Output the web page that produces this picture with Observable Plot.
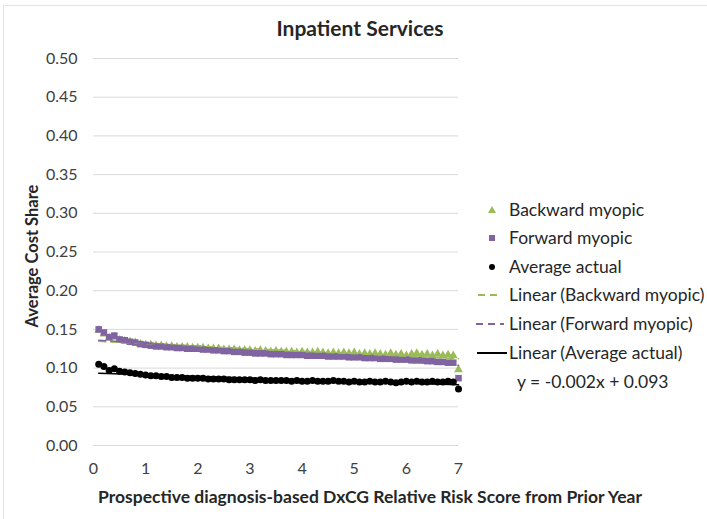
<!DOCTYPE html>
<html>
<head>
<meta charset="utf-8">
<script src="https://cdn.jsdelivr.net/npm/d3@7"></script>
<script src="https://cdn.jsdelivr.net/npm/@observablehq/plot@0.6"></script>
<style>
  html, body { margin: 0; padding: 0; background: #fff; }
  #wrap { position: relative; width: 707px; height: 519px; overflow: hidden; font-family: Lato, "Open Sans", sans-serif; color: #262626; }
  #frame { position: absolute; left: 3px; top: 5px; width: 720px; height: 600px; border-top: 1px solid #e3e3e3; border-left: 1px solid #e3e3e3; }
  #chart { position: absolute; left: 0; top: 0; }
  .abs { position: absolute; white-space: nowrap; }
  #title { left: 0; width: 720px; top: 16px; text-align: center; font-weight: bold; font-size: 21px; line-height: 24px; }
  #xlabel { left: 370px; top: 486px; transform: translateX(-50%); font-weight: bold; font-size: 17.5px; line-height: 22px; }
  #ylabel { left: 32px; top: 256px; transform: translate(-50%, -50%) rotate(-90deg); font-weight: bold; font-size: 16.5px; line-height: 20px; }
  .leg { font-size: 17.5px; line-height: 20px; color: #262626; }
</style>
</head>
<body>
<div id="wrap">
  <div id="frame"></div>
  <div id="chart"></div>
  <div id="title" class="abs">Inpatient Services</div>
  <div id="xlabel" class="abs">Prospective diagnosis-based DxCG Relative Risk Score from Prior Year</div>
  <div id="ylabel" class="abs">Average Cost Share</div>
  <div id="legend"></div>
</div>
<script>
// ---- Data ----
const riskScore = [0.1,0.2,0.3,0.4,0.5,0.6,0.7,0.8,0.9,1.0,
  1.1,1.2,1.3,1.4,1.5,1.6,1.7,1.8,1.9,2.0,
  2.1,2.2,2.3,2.4,2.5,2.6,2.7,2.8,2.9,3.0,
  3.1,3.2,3.3,3.4,3.5,3.6,3.7,3.8,3.9,4.0,
  4.1,4.2,4.3,4.4,4.5,4.6,4.7,4.8,4.9,5.0,
  5.1,5.2,5.3,5.4,5.5,5.6,5.7,5.8,5.9,6.0,
  6.1,6.2,6.3,6.4,6.5,6.6,6.7,6.8,6.9,7.0];

const backwardMyopic = [0.149,0.144,0.139,0.140,0.136,0.135,0.134,0.133,0.131,0.130,
  0.130,0.129,0.129,0.128,0.128,0.127,0.127,0.127,0.126,0.126,
  0.126,0.125,0.125,0.125,0.124,0.124,0.124,0.123,0.123,0.123,
  0.122,0.123,0.122,0.121,0.122,0.121,0.121,0.121,0.120,0.121,
  0.120,0.120,0.121,0.120,0.119,0.120,0.119,0.120,0.119,0.120,
  0.118,0.119,0.118,0.119,0.118,0.117,0.119,0.117,0.118,0.116,
  0.118,0.119,0.117,0.118,0.116,0.118,0.116,0.117,0.116,0.098];

const forwardMyopic = [0.150,0.146,0.140,0.142,0.137,0.136,0.134,0.133,0.131,0.130,
  0.129,0.128,0.128,0.127,0.127,0.126,0.126,0.125,0.125,0.125,
  0.124,0.124,0.123,0.123,0.122,0.122,0.121,0.121,0.120,0.120,
  0.119,0.119,0.119,0.118,0.118,0.118,0.117,0.117,0.117,0.117,
  0.116,0.116,0.116,0.116,0.115,0.115,0.115,0.115,0.114,0.114,
  0.114,0.113,0.113,0.113,0.112,0.112,0.112,0.111,0.111,0.111,
  0.110,0.110,0.110,0.109,0.109,0.108,0.108,0.107,0.107,0.087];

const averageActual = [0.105,0.102,0.097,0.099,0.096,0.095,0.094,0.093,0.092,0.091,
  0.090,0.090,0.089,0.089,0.088,0.088,0.088,0.087,0.087,0.087,
  0.087,0.086,0.086,0.086,0.086,0.085,0.085,0.085,0.085,0.085,
  0.084,0.085,0.084,0.084,0.084,0.084,0.084,0.083,0.084,0.083,
  0.083,0.084,0.083,0.083,0.083,0.084,0.083,0.083,0.082,0.083,
  0.082,0.082,0.083,0.082,0.082,0.083,0.082,0.081,0.082,0.083,
  0.082,0.083,0.082,0.082,0.083,0.082,0.082,0.083,0.082,0.073];

const xTicks = [0,1,2,3,4,5,6,7];
const yTicks = [0,0.05,0.10,0.15,0.20,0.25,0.30,0.35,0.40,0.45,0.50];

const seriesNames = ["Backward myopic","Forward myopic","Average actual"];
const trendNames = ["Linear (Backward myopic)","Linear (Forward myopic)","Linear (Average actual)"];
const equationText = "y = -0.002x + 0.093";

const GREEN = "#9BBB59", PURPLE = "#8064A2", BLACK = "#000000";

// ---- Build tables ----
const rowsB = riskScore.map((x, i) => ({x, y: backwardMyopic[i]}));
const rowsF = riskScore.map((x, i) => ({x, y: forwardMyopic[i]}));
const rowsA = riskScore.map((x, i) => ({x, y: averageActual[i]}));

const chart = Plot.plot({
  width: 707,
  height: 519,
  marginLeft: 93,
  marginRight: 249,
  marginTop: 58,
  marginBottom: 74,
  style: {fontFamily: "Lato, 'Open Sans', sans-serif", fontSize: "16px", color: "#404040", background: "transparent"},
  x: {domain: [0, 7]},
  y: {domain: [0, 0.5]},
  marks: [
    Plot.gridY(yTicks, {stroke: "#d9d9d9", strokeOpacity: 1, strokeWidth: 1}),
    Plot.axisY(yTicks, {tickSize: 0, tickPadding: 16, tickFormat: d3.format(".2f"), label: null, fill: "#404040"}),
    Plot.axisX(xTicks, {tickSize: 0, tickPadding: 17, tickFormat: d => String(d), label: null, fill: "#404040"}),
    Plot.dot(rowsB, {x: "x", y: "y", symbol: "triangle", r: 3.3, fill: GREEN, stroke: "none"}),
    Plot.dot(rowsF, {x: "x", y: "y", symbol: "square", r: 3.7, fill: PURPLE, stroke: "none"}),
    Plot.dot(rowsA, {x: "x", y: "y", symbol: "circle", r: 3.5, fill: BLACK, stroke: "none"}),
    Plot.linearRegressionY(rowsB, {x: "x", y: "y", ci: 0, stroke: GREEN, strokeWidth: 1.5, strokeDasharray: "7,5"}),
    Plot.linearRegressionY(rowsF, {x: "x", y: "y", ci: 0, stroke: PURPLE, strokeWidth: 1.5, strokeDasharray: "7,5"}),
    Plot.linearRegressionY(rowsA, {x: "x", y: "y", ci: 0, stroke: BLACK, strokeWidth: 1.5})
  ]
});
document.getElementById("chart").appendChild(chart);

// ---- Legend ----
const legend = document.getElementById("legend");
const legendRows = [
  {y: 210, kind: "triangle", color: GREEN, label: seriesNames[0]},
  {y: 238, kind: "square", color: PURPLE, label: seriesNames[1]},
  {y: 267, kind: "circle", color: BLACK, label: seriesNames[2]},
  {y: 295, kind: "dash", color: GREEN, label: trendNames[0], x0: 478, x1: 500},
  {y: 324, kind: "dash", color: PURPLE, label: trendNames[1], x0: 476, x1: 504},
  {y: 353, kind: "solid", color: BLACK, label: trendNames[2], x0: 477, x1: 507}
];
const NS = "http://www.w3.org/2000/svg";
const svg = document.createElementNS(NS, "svg");
svg.setAttribute("width", 707); svg.setAttribute("height", 519);
svg.style.position = "absolute"; svg.style.left = "0"; svg.style.top = "0";
for (const r of legendRows) {
  let el;
  if (r.kind === "triangle") {
    el = document.createElementNS(NS, "path");
    el.setAttribute("d", `M${492},${r.y - 4} L${496},${r.y + 3} L${488},${r.y + 3} Z`);
    el.setAttribute("fill", r.color);
  } else if (r.kind === "square") {
    el = document.createElementNS(NS, "rect");
    el.setAttribute("x", 489); el.setAttribute("y", r.y - 3);
    el.setAttribute("width", 6); el.setAttribute("height", 6);
    el.setAttribute("fill", r.color);
  } else if (r.kind === "circle") {
    el = document.createElementNS(NS, "circle");
    el.setAttribute("cx", 492); el.setAttribute("cy", r.y);
    el.setAttribute("r", 3); el.setAttribute("fill", r.color);
  } else {
    el = document.createElementNS(NS, "line");
    el.setAttribute("x1", r.x0); el.setAttribute("x2", r.x1);
    el.setAttribute("y1", r.y); el.setAttribute("y2", r.y);
    el.setAttribute("stroke", r.color); el.setAttribute("stroke-width", 2);
    if (r.kind === "dash") el.setAttribute("stroke-dasharray", "7,5");
  }
  svg.appendChild(el);
  const t = document.createElement("div");
  t.className = "abs leg";
  t.style.left = "509px";
  t.style.top = (r.y - 10) + "px";
  t.textContent = r.label;
  legend.appendChild(t);
}
legend.appendChild(svg);
const eq = document.createElement("div");
eq.className = "abs leg";
eq.style.left = "517px";
eq.style.top = (382 - 10) + "px";
eq.textContent = equationText;
legend.appendChild(eq);
</script>
</body>
</html>
